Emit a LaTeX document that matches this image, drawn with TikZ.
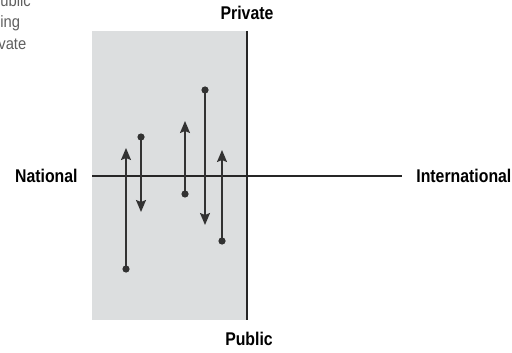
\documentclass[tikz,border=0pt]{standalone}
\usepackage{fontspec}
\setmainfont{Liberation Sans}[FakeStretch=0.86]
\newfontfamily\notefont{Liberation Sans}[FakeStretch=0.9]
\usetikzlibrary{arrows.meta, positioning}
\definecolor{zonegray}{RGB}{220,222,223}
\definecolor{linegray}{RGB}{50,50,50}
\definecolor{notegray}{RGB}{95,95,95}
\tikzset{
    axislabel/.style = {font=\bfseries\fontsize{9.2}{11}\selectfont, inner sep=0pt},
    note/.style = {font=\notefont\fontsize{8.2}{10}\selectfont, text=notegray,
        inner sep=0pt, anchor=base west},
    dot/.style = {circle, fill=linegray, inner sep=0pt, minimum size=3.6pt},
    move/.style = {draw=linegray, line width=0.8pt,
        -{Stealth[length=6pt, width=5pt, inset=1pt]}},
}

\begin{document}
\begin{tikzpicture}[x=0.5pt, y=-0.5pt]
    \useasboundingbox (0,0) rectangle (512,352);
    % shaded zone and axes
    \fill[zonegray] (92,31) rectangle (247,320);
    \coordinate (ptop) at (247,31);
    \coordinate (pbot) at (247,320);
    \coordinate (nleft) at (92,176);
    \coordinate (nright) at (402,176);
    \draw[line width=0.6pt, black!85] (ptop) -- (pbot);
    \draw[line width=0.55pt, black!85] (nleft) -- (nright);
    \node (private) [axislabel, above=5.5pt of ptop] {Private};
    \node (public) [axislabel, below=6pt of pbot, xshift=1pt] {Public};
    \node (national) [axislabel, left=7pt of nleft] {National};
    \node (international) [axislabel, right=7pt of nright] {International};
    % clipped note, top left
    \node (n1) [note] at (0,6.5) {ublic};
    \node (n2) [note] at (0,28) {ing};
    \node (n3) [note] at (-2,50) {vate};
    % moves
    \node (d1) [dot] at (126,269) {};
    \coordinate (t1) at (126,148);
    \node (d2) [dot] at (141,137) {};
    \coordinate (t2) at (141,212);
    \node (d3) [dot] at (185,194) {};
    \coordinate (t3) at (185,121);
    \node (d4) [dot] at (205,90) {};
    \coordinate (t4) at (205,225);
    \node (d5) [dot] at (222,241) {};
    \coordinate (t5) at (222,150);
    \foreach \i in {1,...,5}
        \draw[move] (d\i.center) -- (t\i);
\end{tikzpicture}
\end{document}
